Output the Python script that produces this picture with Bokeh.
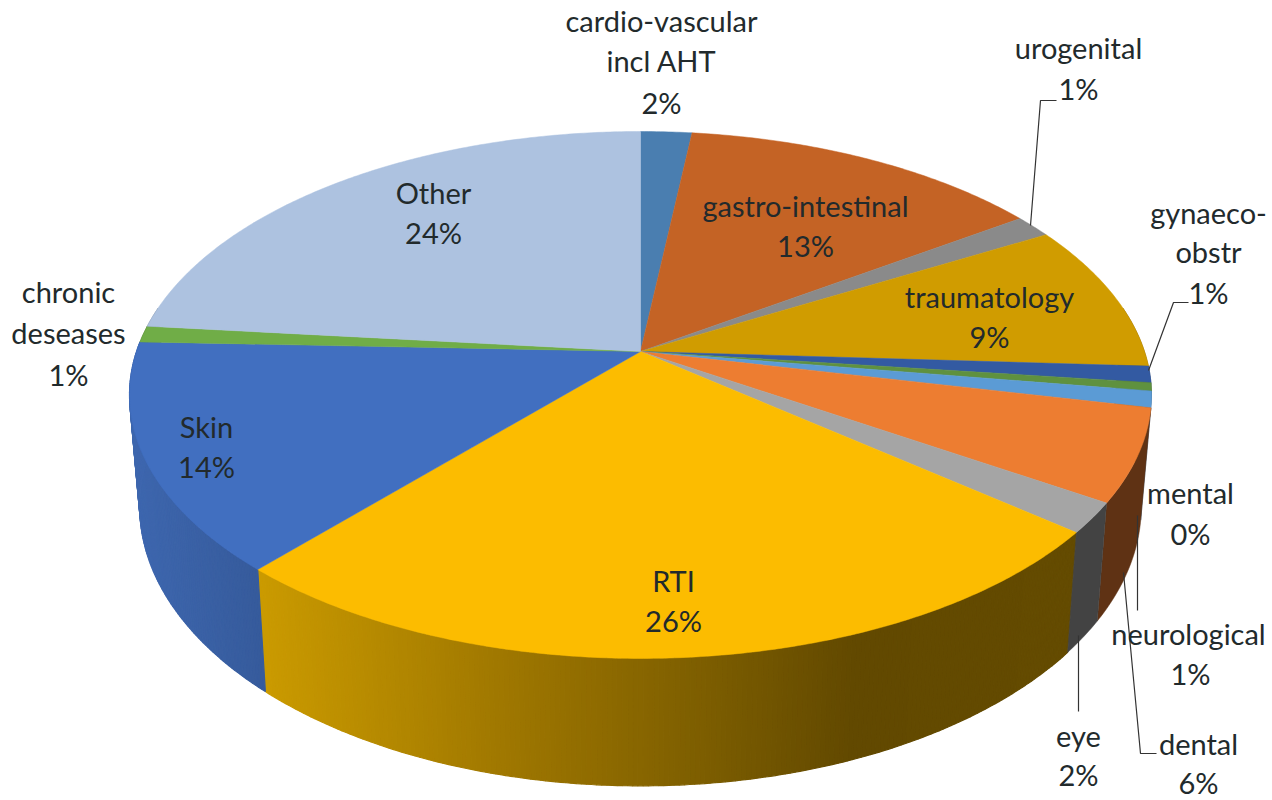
import math
from bokeh.plotting import figure
from bokeh.models import Range1d
from bokeh.core.properties import value
from bokeh.embed import file_html
from bokeh.resources import INLINE

# Data (clockwise from 12 o'clock)
categories = ["cardio-vascular incl AHT", "gastro-intestinal", "urogenital", "traumatology",
              "gynaeco-obstr", "mental", "neurological", "dental", "eye", "RTI", "Skin",
              "chronic deseases", "Other"]
shares = [1.9, 13.5, 1.4, 9.1, 1.0, 0.5, 1.0, 5.65, 1.85, 25.7, 14.0, 1.0, 23.4]
shown_percent = ["2%", "13%", "1%", "9%", "1%", "0%", "1%", "6%", "2%", "26%", "14%", "1%", "24%"]
top_colors = ["#4a7eb0", "#c46325", "#8a8a8a", "#d09c00", "#335aa2", "#5f913f", "#5b9bd5",
              "#ed7d31", "#a5a5a5", "#fcbc00", "#416fc0", "#70ad47", "#adc2e0"]
rim_colors = ["#2c4b69", "#753b16", "#525252", "#7c5d00", "#1e3661", "#395726", "#365d80",
              "#5f3214", "#434343", None, None, "#436829", "#677486"]

# Layout of the projection
CX, CY = 640, 351
RX, RY, K = 504.0, 256.3, 0.165
LOWER_SCALE_X, LOWER_SCALE_Y, LOWER_Y = 0.98, 1.06, 460.0
INK = "#222a2c"
LABEL_PX = "29px"

label_lines = {
    0: [(661, 20, "cardio-vascular"), (661, 60, "incl AHT"), (661, 102, None)],
    1: [(805, 205, "gastro-intestinal"), (805, 245, None)],
    2: [(1078, 47, "urogenital"), (1078, 88, None)],
    3: [(989, 296, "traumatology"), (989, 336, None)],
    4: [(1208, 212, "gynaeco-"), (1208, 251, "obstr"), (1208, 292, None)],
    5: [(1190, 492, "mental"), (1190, 533, None)],
    6: [(1188, 633, "neurological"), (1190, 673, None)],
    7: [(1198, 743, "dental"), (1198, 782, None)],
    8: [(1078, 735, "eye"), (1078, 774, None)],
    9: [(673, 580, "RTI"), (673, 620, None)],
    10: [(206, 426, "Skin"), (206, 466, None)],
    11: [(68, 291, "chronic"), (68, 332, "deseases"), (68, 374, None)],
    12: [(433, 192, "Other"), (433, 232, None)],
}
leaders = [
    ([1030, 1040, 1056], [225, 100, 100]),
    ([1148, 1173, 1188], [370, 302, 302]),
    ([1137, 1137], [515, 610]),
    ([1123, 1140, 1156], [572, 753, 753]),
    ([1078, 1078], [635, 711]),
]


def top_point(theta):
    u, v = math.sin(theta), -math.cos(theta)
    d = 1 - K * v
    return CX + RX * u / d, CY + RY * v / d


def low_point(theta):
    x, y = top_point(theta)
    return CX + LOWER_SCALE_X * (x - CX), LOWER_Y + LOWER_SCALE_Y * (y - CY)


def mix(stops, x):
    c = stops[-1][1] if x >= stops[-1][0] else stops[0][1]
    for (a, ca), (b, cb) in zip(stops, stops[1:]):
        if a <= x <= b:
            t = (x - a) / (b - a)
            c = tuple(ca[i] + (cb[i] - ca[i]) * t for i in range(3))
            break
    return "#%02x%02x%02x" % tuple(int(round(i)) for i in c)


rti_stops = [(262, (203, 155, 0)), (500, (160, 120, 0)), (700, (125, 94, 0)), (850, (98, 73, 0)), (1070, (100, 75, 0))]
skin_stops = [(135, (62, 103, 175)), (262, (54, 91, 156))]

p = figure(width=1272, height=800, x_range=Range1d(0, 1272), y_range=Range1d(800, 0),
           toolbar_location=None, output_backend="svg", min_border=0,
           x_axis_location=None, y_axis_location=None, outline_line_color=None,
           background_fill_color="white", border_fill_color="white")
p.grid.visible = False

# boundaries
total = sum(shares)
bounds = [0.0]
for s in shares:
    bounds.append(bounds[-1] + s)
angles = [b / total * 2 * math.pi for b in bounds]

# rim: gradient slices as strips, flat slices as a single polygon
rx, ry, rc = [], [], []
fx, fy, fc = [], [], []
for i in range(len(shares)):
    lo, hi = max(angles[i], math.radians(80)), min(angles[i + 1], math.radians(280))
    if hi <= lo:
        continue
    steps = max(2, int(math.degrees(hi - lo) * 2))
    ts = [lo + (hi - lo) * j / steps for j in range(steps + 1)]
    if rim_colors[i] is not None:
        up = [top_point(t) for t in ts]
        dn = [low_point(t) for t in reversed(ts)]
        fx.append([q[0] for q in up + dn])
        fy.append([q[1] for q in up + dn])
        fc.append(rim_colors[i])
    else:
        stops = rti_stops if categories[i] == "RTI" else skin_stops
        for t0, t1 in zip(ts, ts[1:]):
            a, b, c, d = top_point(t0), top_point(t1), low_point(t1), low_point(t0)
            rx.append([a[0], b[0], c[0], d[0]])
            ry.append([a[1], b[1], c[1], d[1]])
            col = mix(stops, (c[0] + d[0]) / 2)
            rc.append(col)
p.patches(rx, ry, fill_color=rc, line_color=rc, line_width=1.2)
p.patches(fx, fy, fill_color=fc, line_color=fc, line_width=0.5)

# top face
tx, ty = [], []
for i in range(len(shares)):
    a0, a1 = angles[i], angles[i + 1]
    n = max(2, int(math.degrees(a1 - a0) * 2))
    xs, ys = [float(CX)], [float(CY)]
    for j in range(n + 1):
        x, y = top_point(a0 + (a1 - a0) * j / n)
        xs.append(x)
        ys.append(y)
    tx.append(xs)
    ty.append(ys)
p.patches(tx, ty, fill_color=top_colors, line_color=top_colors, line_width=0.5)

# leaders
for lx, ly in leaders:
    p.line(lx, ly, line_color="#333333", line_width=1.2)

# labels
lab_x, lab_y, lab_t = [], [], []
for i, lines in label_lines.items():
    for x, y, t in lines:
        lab_x.append(x)
        lab_y.append(y)
        lab_t.append(t if t is not None else shown_percent[i])
p.text(lab_x, lab_y, text=lab_t, text_align="center", text_baseline="middle",
       text_font=value("Lato"), text_font_size=LABEL_PX, text_color=INK)

open("out.html", "w").write(file_html(p, INLINE))
